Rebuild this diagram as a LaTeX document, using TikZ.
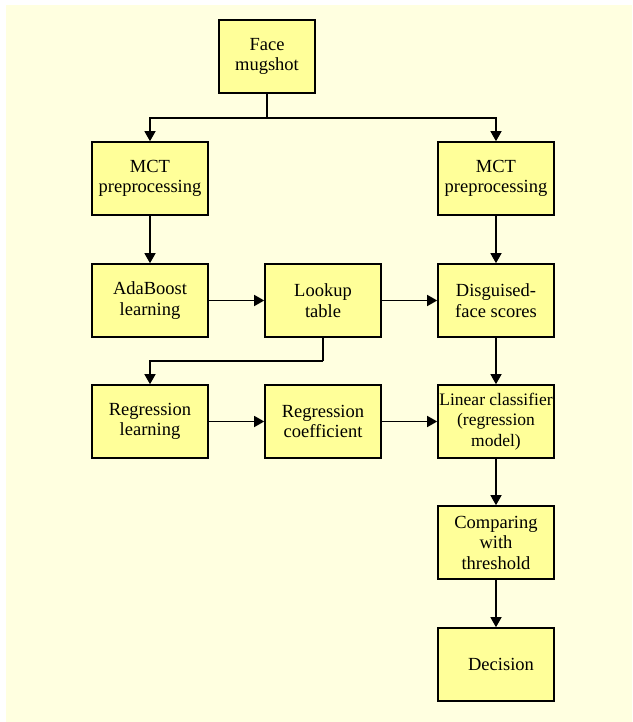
\documentclass[tikz,border=0pt]{standalone}
\usepackage{fontspec}
\setmainfont{Liberation Serif}
\usetikzlibrary{arrows.meta}
\definecolor{bgc}{RGB}{255,255,224}
\definecolor{boxfill}{RGB}{255,255,153}
\begin{document}
\begin{tikzpicture}[x=1pt,y=-1pt,
  box/.style={draw=black, line width=1.6pt, fill=boxfill, minimum width=116pt, minimum height=73pt, inner sep=0pt, align=center, font=\fontsize{18.5}{20.5}\selectfont},
  conn/.style={line width=1.3pt, -{Triangle[width=11pt,length=10pt]}},
  plain/.style={line width=1.3pt}]
\useasboundingbox (0,0) rectangle (632,722);
\fill[bgc] (6,5) rectangle (632,722);
\node[box, minimum width=96pt] (face) at (267,56.5) {Face\\mugshot};
\node[box] (mctL) at (150,178.5) {MCT\\preprocessing};
\node[box] (mctR) at (496,178.5) {MCT\\preprocessing};
\node[box] (ada) at (150,300.5) {AdaBoost\\learning};
\node[box] (look) at (323,300.5) {Lookup\\table};
\node[box] (disg) at (496,300.5) {Disguised-\\face scores};
\node[box] (regl) at (150,421.5) {Regression\\learning};
\node[box] (regc) at (323,421.5) {Regression\\coefficient};
\node[box, font=\fontsize{17.5}{20.5}\selectfont] (lin) at (496,421.5) {Linear classifier\\(regression\\model)};
\node[box] (comp) at (496,542.5) {Comparing\\with\\threshold};
\node[box] (dec) at (496,664.5) {\hspace*{10pt}Decision};
\coordinate (br) at (267,118);
\coordinate (el) at (323,361);
\draw[plain] (face.south) -- (br);
\draw[conn] (br) -| (mctL.north);
\draw[conn] (br) -| (mctR.north);
\draw[conn] (mctL.south) -- (ada.north);
\draw[conn] (mctR.south) -- (disg.north);
\draw[conn] (ada.east) -- (look.west);
\draw[conn] (look.east) -- (disg.west);
\draw[plain] (look.south) -- (el);
\draw[conn] (el) -| (regl.north);
\draw[conn] (regl.east) -- (regc.west);
\draw[conn] (regc.east) -- (lin.west);
\draw[conn] (disg.south) -- (lin.north);
\draw[conn] (lin.south) -- (comp.north);
\draw[conn] (comp.south) -- (dec.north);
\end{tikzpicture}
\end{document}
